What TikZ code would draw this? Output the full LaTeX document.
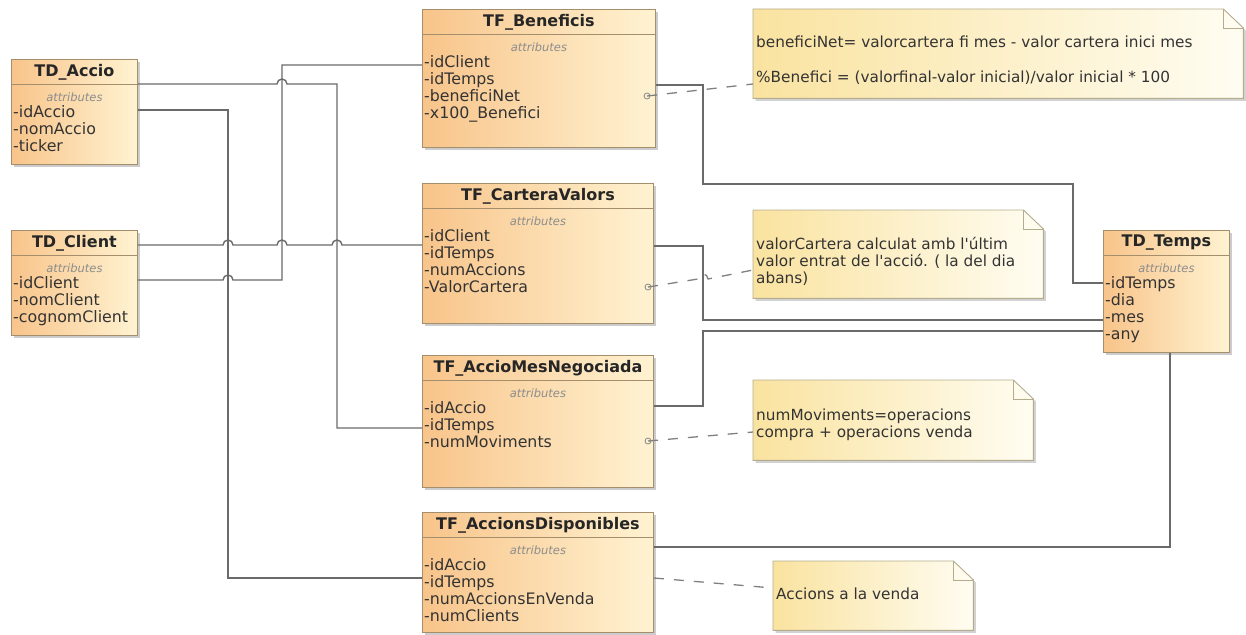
\documentclass[tikz,border=0pt]{standalone}
\usepackage{fontspec}
\setmainfont{DejaVu Sans}
\usepackage{tikz}
\usetikzlibrary{shadows}

\definecolor{clsleft}{HTML}{F8C48A}
\definecolor{clsright}{HTML}{FFF3D2}
\definecolor{clsborder}{HTML}{A58E6C}
\definecolor{noteleft}{HTML}{FAE3A0}
\definecolor{noteright}{HTML}{FFFDF2}
\definecolor{noteborder}{HTML}{B4AC8C}
\definecolor{linkgray}{HTML}{6A6A6A}

\tikzset{
  classbox/.style={draw=clsborder, line width=0.9pt, left color=clsleft, right color=clsright,
    drop shadow={shadow xshift=2.5pt, shadow yshift=-2.5pt, fill=black!40}},
  classtitle/.style={font=\fontsize{16}{18}\selectfont\bfseries, text=black!85, inner sep=0pt},
  attrhead/.style={font=\fontsize{11.5}{14}\selectfont\itshape, text=black!45, inner sep=0pt},
  attrlist/.style={font=\fontsize{15.8}{17}\selectfont, text=black!80, align=left, inner sep=0pt},
  notebox/.style={inner sep=0pt},
  noteline/.style={draw=noteborder, line width=0.9pt},
  notetext/.style={font=\fontsize{15.3}{17}\selectfont, text=black!80, align=left, inner sep=0pt},
  link/.style={draw=linkgray, line width=1.4pt},
  notelink/.style={draw=linkgray!85, line width=1.3pt, dash pattern=on 10pt off 10pt},
  hop/.style={start angle=180, end angle=0, radius=5pt},
}

\newcommand{\umlclass}[7]{%
  \node[classbox, minimum width=#4pt, minimum height=#5pt, anchor=north west] (#1) at (#2,#3) {};
  \draw[clsborder, line width=0.9pt] ([yshift=-25pt]#1.north west) -- ([yshift=-25pt]#1.north east);
  \node[classtitle] (#1-title) at ([yshift=-13pt]#1.north) {#6};
  \node[attrhead] (#1-head) at ([yshift=-38pt]#1.north) {attributes};
  \node[attrlist, anchor=north west] (#1-attrs) at ([shift={(2pt,-46pt)}]#1.north west) {#7};
}

\newcommand{\umlnote}[1]{%
  \path[noteline, left color=noteleft, right color=noteright,
    drop shadow={shadow xshift=2.5pt, shadow yshift=-2.5pt, fill=black!35}]
    (#1.north west) -- ([xshift=-20pt]#1.north east) -- ([yshift=-19pt]#1.north east)
    -- (#1.south east) -- (#1.south west) -- cycle;
  \draw[noteline] ([xshift=-20pt]#1.north east) -- ([shift={(-20pt,-19pt)}]#1.north east)
    -- ([yshift=-19pt]#1.north east);
}

\begin{document}
\begin{tikzpicture}[x=1pt, y=-1pt]
  \useasboundingbox (0,0) rectangle (1246,634);

  % dimensions
  \umlclass{accio}{11}{59}{126}{105}{TD\_Accio}{-idAccio\\-nomAccio\\-ticker}
  \umlclass{client}{11}{230}{126}{105}{TD\_Client}{-idClient\\-nomClient\\-cognomClient}
  \umlclass{temps}{1103}{230}{126}{122}{TD\_Temps}{-idTemps\\-dia\\-mes\\-any}

  % facts
  \umlclass{benef}{422}{9}{233}{138}{TF\_Beneficis}{-idClient\\-idTemps\\-beneficiNet\\-x100\_Benefici}
  \umlclass{cartera}{422}{183}{231}{140}{TF\_CarteraValors}{-idClient\\-idTemps\\-numAccions\\-ValorCartera}
  \umlclass{accmes}{422}{355}{231}{132}{TF\_AccioMesNegociada}{-idAccio\\-idTemps\\-numMoviments}
  \umlclass{accdisp}{422}{512}{231}{120}{TF\_AccionsDisponibles}{-idAccio\\-idTemps\\-numAccionsEnVenda\\-numClients}

  % notes
  \node[notebox, minimum width=490pt, minimum height=89pt, anchor=north west] (n1) at (753,9) {};
  \umlnote{n1}
  \node[notetext, anchor=north west] (n1-text) at (756,36)
    {beneficiNet= valorcartera fi mes - valor cartera inici mes\\[18pt]
     \%Benefici = (valorfinal-valor inicial)/valor inicial * 100};
  \node[notebox, minimum width=290pt, minimum height=88pt, anchor=north west] (n2) at (753,210) {};
  \umlnote{n2}
  \node[notetext, anchor=north west] (n2-text) at (756,237)
    {valorCartera calculat amb l\textquotesingle últim\\valor entrat de l\textquotesingle acció. ( la del dia\\abans)};
  \node[notebox, minimum width=280pt, minimum height=80pt, anchor=north west] (n3) at (753,380) {};
  \umlnote{n3}
  \node[notetext, anchor=north west] (n3-text) at (756,409)
    {numMoviments=operacions\\compra + operacions venda};
  \node[notebox, minimum width=200pt, minimum height=69pt, anchor=north west] (n4) at (773,561) {};
  \umlnote{n4}
  \node[notetext, anchor=north west] (n4-text) at (776,588) {Accions a la venda};

  % links
  \draw[link] ([yshift=-25pt]accio.north east) -- (277,84) arc[hop] -- (337,84) -- (337,428)
    -- (accmes.west |- 0,428);
  \draw[link] ([yshift=-51pt]accio.north east) -- (228,110) -- (228,578) -- (accdisp.west |- 0,578);
  \draw[link] ([yshift=-15pt]client.north east) -- (223,245) arc[hop] -- (277,245) arc[hop]
    -- (332,245) arc[hop] -- (cartera.west |- 0,245);
  \draw[link] ([yshift=-50pt]client.north east) -- (223,280) arc[hop] -- (282,280) -- (282,65)
    -- (benef.west |- 0,65);
  \draw[link] (benef.east |- 0,85) -- (703,85) -- (703,184) -- (1073,184) -- (1073,283)
    -- (temps.west |- 0,283);
  \draw[link] (cartera.east |- 0,246) -- (703,246) -- (703,320) -- (temps.west |- 0,320);
  \draw[link] (accmes.east |- 0,406) -- (703,406) -- (703,331) -- (temps.west |- 0,331);
  \draw[link] (accdisp.east |- 0,547) -- (1170,547) -- (temps.south -| 1170,0);

  % note links
  \coordinate (benef-dot) at (647,96);
  \coordinate (cartera-dot) at (648,287);
  \coordinate (accmes-dot) at (648,441);
  \draw[notelink] (benef-dot) -- (n1.west |- 0,84);
  \draw[notelink] (cartera-dot) -- (698,279) arc[hop] -- (n2.west |- 0,270);
  \draw[notelink] (accmes-dot) -- (n3.west |- 0,432);
  \draw[notelink] (accdisp.east |- 0,578) -- (n4.west |- 0,588);
  \foreach \d in {benef-dot, cartera-dot, accmes-dot}
    \draw[linkgray!80, line width=0.8pt] (\d) circle[radius=3pt];
\end{tikzpicture}
\end{document}
